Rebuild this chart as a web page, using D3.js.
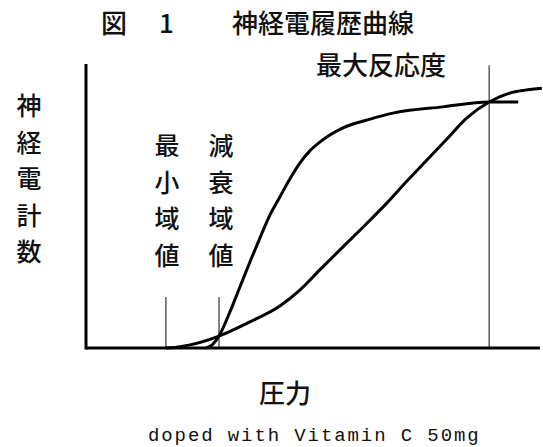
<!DOCTYPE html>
<html>
<head>
<meta charset="utf-8">
<script src="https://cdn.jsdelivr.net/npm/d3@7"></script>
<style>
  body { margin: 0; background: #fff; }
  svg text { font-family: "Noto Sans CJK JP", "Noto Sans", sans-serif; fill: #111; font-weight: 500; }
</style>
</head>
<body>
<div id="chart"></div>
<script>
// chart data (pressure 0-100, nerve count 0-100)
var steepX = [26.4, 27.8, 29.3, 31.7, 33.9, 36.1, 38.3, 40.5, 42.7, 44.9, 47.1, 49.3, 51.5, 56.6, 62.6, 67.6, 78.6, 88.8, 95.2];
var steepY = [0, 1.1, 4.2, 12.7, 21.5, 30.3, 38.7, 46.8, 53.2, 59.5, 65.1, 69.4, 72.5, 77.5, 80.6, 82.7, 84.9, 86.6, 86.6];
var slowX = [17.6, 19.6, 22.9, 29.3, 36.1, 42.7, 47.1, 51.5, 56.6, 61.5, 66.3, 70.7, 75.1, 79.5, 83.9, 88.8, 93.4, 96.7, 100.4];
var slowY = [0, 0.2, 1.1, 4.2, 9.2, 14.8, 20.4, 27.5, 35.6, 43.3, 51.1, 58.8, 66.2, 73.6, 81.0, 86.6, 89.8, 90.8, 91.5];
var markerX = [17.6, 29.3, 88.8];
var markerTop = [18, 18, 99.6];

var width = 543;
var height = 447;

var svg = d3.select("#chart")
    .append("svg")
    .attr("width", width)
    .attr("height", height);

var x = d3.scaleLinear().domain([0, 100]).range([86, 540]);
var y = d3.scaleLinear().domain([0, 100]).range([348, 64]);

var line = d3.line()
    .x(function (d) { return x(d[0]); })
    .y(function (d) { return y(d[1]); })
    .curve(d3.curveMonotoneX);

// thin marker lines
svg.selectAll(".marker")
    .data(markerX)
    .enter().append("line")
    .attr("class", "marker")
    .attr("x1", function (d) { return x(d); })
    .attr("x2", function (d) { return x(d); })
    .attr("y1", y(0))
    .attr("y2", function (d, i) { return y(markerTop[i]); })
    .attr("stroke", "#333")
    .attr("stroke-width", 1.2);

// curves
[d3.zip(steepX, steepY), d3.zip(slowX, slowY)].forEach(function (pts) {
    svg.append("path")
        .datum(pts)
        .attr("d", line)
        .attr("fill", "none")
        .attr("stroke", "#000")
        .attr("stroke-width", 3);
});

// axes
svg.append("line")
    .attr("x1", x(0)).attr("x2", x(0))
    .attr("y1", y(0) + 1.5).attr("y2", y(100))
    .attr("stroke", "#000").attr("stroke-width", 3);
svg.append("line")
    .attr("x1", x(0)).attr("x2", x(100))
    .attr("y1", y(0)).attr("y2", y(0))
    .attr("stroke", "#000").attr("stroke-width", 3);

// title
svg.append("text").attr("x", 101).attr("y", 33).attr("font-size", 26).text("図");
svg.append("text").attr("x", 159).attr("y", 33).attr("font-size", 26).text("1");
svg.append("text").attr("x", 232).attr("y", 33).attr("font-size", 26).text("神経電履歴曲線");

svg.append("text").attr("x", 381).attr("y", 75).attr("font-size", 26)
    .attr("text-anchor", "middle").text("最大反応度");

// vertical labels
function vertical(str, cx, y0, step) {
    str.split("").forEach(function (c, i) {
        svg.append("text")
            .attr("x", cx).attr("y", y0 + i * step)
            .attr("font-size", 25)
            .attr("text-anchor", "middle")
            .text(c);
    });
}
vertical("神経電計数", 29, 115, 36.6);
vertical("最小域値", 167, 155, 36.5);
vertical("減衰域値", 221, 155, 36.5);

svg.append("text").attr("x", 285).attr("y", 403).attr("font-size", 26)
    .attr("text-anchor", "middle").text("圧力");

svg.append("text").attr("x", 148).attr("y", 441)
    .attr("font-size", 19)
    .style("font-family", "'Liberation Mono', monospace")
    .style("font-weight", "normal")
    .style("letter-spacing", "1.9px")
    .text("doped with Vitamin C 50mg");
</script>
</body>
</html>
